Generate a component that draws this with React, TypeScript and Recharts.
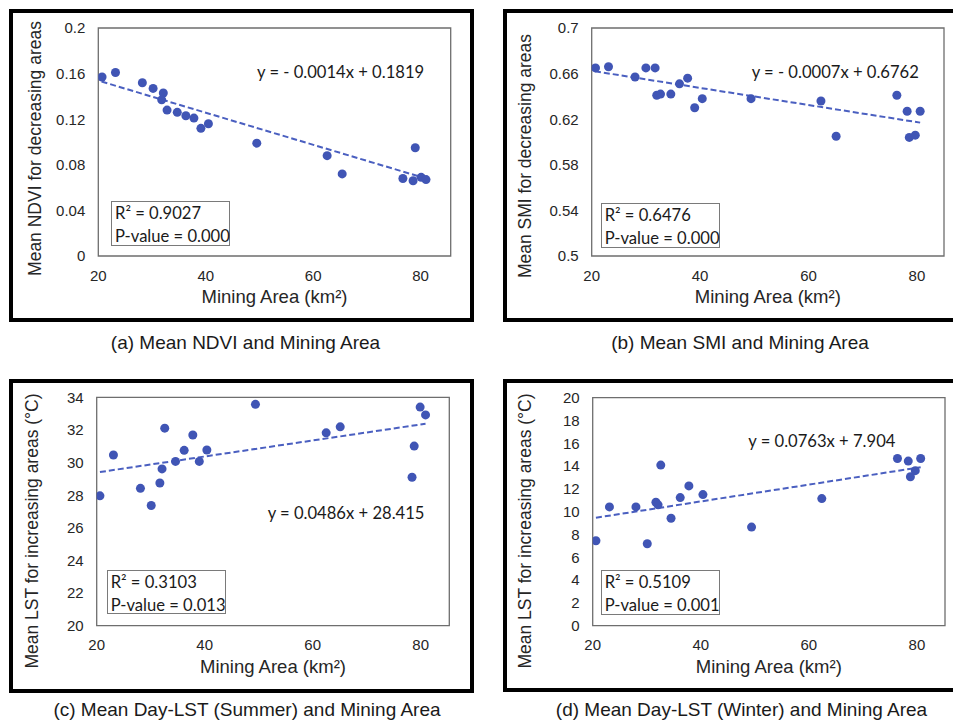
import React from 'react';
import { ScatterChart, Scatter, XAxis, YAxis, ReferenceArea, ReferenceLine } from 'recharts';

// ---- Data ----
const xTicks = [20, 40, 60, 80];

const ndviArea = [20.7, 23.2, 28.2, 30.2, 32.1, 31.8, 32.8, 34.7, 36.3, 37.8, 39.1, 40.5, 49.5, 62.6, 65.4, 76.7, 78.6, 79.0, 80.1, 81.0];
const ndviMean = [0.157, 0.161, 0.152, 0.147, 0.143, 0.137, 0.128, 0.126, 0.123, 0.121, 0.112, 0.116, 0.099, 0.088, 0.072, 0.068, 0.066, 0.095, 0.069, 0.067];
const ndviTicks = [0, 0.04, 0.08, 0.12, 0.16, 0.2];
const ndviTrend = [[20.6, 0.153], [81.0, 0.068]];

const smiArea = [20.7, 23.1, 28.0, 30.0, 31.7, 32.0, 32.7, 34.6, 36.2, 37.7, 39.0, 40.4, 49.4, 62.3, 65.1, 76.3, 78.2, 78.6, 79.7, 80.6];
const smiMean = [0.665, 0.666, 0.657, 0.665, 0.665, 0.641, 0.642, 0.642, 0.651, 0.656, 0.630, 0.638, 0.638, 0.636, 0.605, 0.641, 0.627, 0.604, 0.606, 0.627];
const smiTicks = [0.5, 0.54, 0.58, 0.62, 0.66, 0.7];
const smiTrend = [[20.6, 0.662], [80.6, 0.617]];

const lstSummerArea = [20.6, 23.1, 28.1, 30.1, 31.7, 32.1, 32.6, 34.6, 36.2, 37.8, 39.0, 40.4, 49.4, 62.5, 65.1, 78.4, 78.8, 79.9, 80.9];
const lstSummerMean = [27.96, 30.46, 28.42, 27.37, 28.75, 29.61, 32.11, 30.07, 30.75, 31.69, 30.07, 30.77, 33.57, 31.82, 32.19, 29.10, 31.01, 33.40, 32.92];
const lstSummerTicks = [20, 22, 24, 26, 28, 30, 32, 34];
const lstSummerTrend = [[20.6, 29.42], [80.9, 32.38]];

const lstWinterArea = [20.6, 23.1, 28.0, 30.1, 31.7, 32.1, 32.6, 34.5, 36.2, 37.8, 40.4, 49.4, 62.4, 76.4, 78.4, 78.8, 79.7, 80.7];
const lstWinterMean = [7.45, 10.42, 10.42, 7.19, 10.83, 10.60, 14.09, 9.43, 11.24, 12.26, 11.50, 8.65, 11.15, 14.67, 14.44, 13.07, 13.60, 14.67];
const lstWinterTicks = [0, 2, 4, 6, 8, 10, 12, 14, 16, 18, 20];
const lstWinterTrend = [[20.6, 9.47], [80.7, 13.9]];

const captions = [
  '(a) Mean NDVI and Mining Area',
  '(b) Mean SMI and Mining Area',
  '(c) Mean Day-LST (Summer) and Mining Area',
  '(d) Mean Day-LST (Winter) and Mining Area',
];
const yTitles = [
  'Mean NDVI for decreasing areas',
  'Mean SMI for decreasing areas',
  'Mean LST for increasing areas (°C)',
  'Mean LST for increasing areas (°C)',
];
const equations = ['y = - 0.0014x + 0.1819', 'y = - 0.0007x + 0.6762', 'y = 0.0486x + 28.415', 'y = 0.0763x + 7.904'];
const rSquared = ['R² = 0.9027', 'R² = 0.6476', 'R² = 0.3103', 'R² = 0.5109'];
const pValues = ['P-value = 0.000', 'P-value = 0.000', 'P-value = 0.013', 'P-value = 0.001'];

// ---- Styling / layout ----
const DOT = '#4055b5';
const LINE = '#4a5fc0';
const ARIAL = '"Liberation Sans", Arial, sans-serif';
const CALIBRI = 'Lato, "Open Sans", sans-serif';

type Cfg = {
  xs: number[]; ys: number[]; yTicks: number[]; trend: number[][];
  xMax: number;
  frame: { left: number; top: number; w: number; h: number };
  plot: { l: number; t: number; r: number; b: number };
  yTitleX: number; yTitleY: number;
  eq: { left: number; cy: number };
  box: { left: number; top: number; w: number; h: number };
  cap: { cx: number; cy: number };
};

const panels: Cfg[] = [
  {
    xs: ndviArea, ys: ndviMean, yTicks: ndviTicks, trend: ndviTrend, xMax: 85.6,
    frame: { left: 9, top: 9, w: 457, h: 305 },
    plot: { l: 85.3, t: 15, r: 437.7, b: 243 },
    yTitleX: 22, yTitleY: 135.5,
    eq: { left: 257, cy: 71.7 },
    box: { left: 111, top: 201, w: 119, h: 45 },
    cap: { cx: 245.5, cy: 343 },
  },
  {
    xs: smiArea, ys: smiMean, yTicks: smiTicks, trend: smiTrend, xMax: 85.0,
    frame: { left: 503, top: 9, w: 457, h: 305 },
    plot: { l: 84.7, t: 15, r: 437, b: 243 },
    yTitleX: 18, yTitleY: 143,
    eq: { left: 751.7, cy: 71.7 },
    box: { left: 600.7, top: 203.3, w: 119.6, h: 45 },
    cap: { cx: 740, cy: 343 },
  },
  {
    xs: lstSummerArea, ys: lstSummerMean, yTicks: lstSummerTicks, trend: lstSummerTrend, xMax: 85.3,
    frame: { left: 9, top: 379, w: 457, h: 306 },
    plot: { l: 83.7, t: 14.3, r: 436.3, b: 242.7 },
    yTitleX: 19, yTitleY: 148,
    eq: { left: 267.7, cy: 513.3 },
    box: { left: 106.7, top: 570, w: 119.6, h: 44.3 },
    cap: { cx: 247, cy: 710 },
  },
  {
    xs: lstWinterArea, ys: lstWinterMean, yTicks: lstWinterTicks, trend: lstWinterTrend, xMax: 85.2,
    frame: { left: 503, top: 379, w: 457, h: 305 },
    plot: { l: 85.7, t: 14.7, r: 438, b: 242.7 },
    yTitleX: 18, yTitleY: 148,
    eq: { left: 748.3, cy: 441 },
    box: { left: 600.7, top: 570, w: 119.6, h: 45 },
    cap: { cx: 741.5, cy: 710 },
  },
];

const Dot = (p: any) => <circle cx={p.cx} cy={p.cy} r={4.5} fill={DOT} />;

function Panel({ cfg, idx }: { cfg: Cfg; idx: number }) {
  const data = cfg.xs.map((x, i) => ({ x, y: cfg.ys[i] }));
  const yMin = cfg.yTicks[0];
  const yMax = cfg.yTicks[cfg.yTicks.length - 1];
  const { frame, plot } = cfg;
  const tickStyle = { fontSize: 15, fill: '#262626', fontFamily: ARIAL };
  const yTitle = yTitles[idx];
  return (
    <div
      style={{
        position: 'absolute', left: frame.left, top: frame.top, width: frame.w, height: frame.h,
        border: '4px solid #000', background: '#fff',
      }}
    >
      <ScatterChart
        width={frame.w}
        height={frame.h}
        margin={{ top: plot.t, right: frame.w - plot.r, left: 0, bottom: 0 }}
      >
        <XAxis
          type="number" dataKey="x" domain={[20, cfg.xMax]} ticks={xTicks} allowDataOverflow
          height={frame.h - plot.b} axisLine={false} tickLine={false} tickSize={6} tickMargin={8}
          tick={tickStyle}
          label={{
            value: 'Mining Area (km²)', position: 'insideTop', offset: 34,
            style: { fontSize: 18.5, fill: '#262626', fontFamily: ARIAL },
          }}
        />
        <YAxis
          type="number" dataKey="y" domain={[yMin, yMax]} ticks={cfg.yTicks} allowDataOverflow
          width={plot.l} axisLine={false} tickLine={false} tickSize={6} tickMargin={7}
          tick={tickStyle}
          label={{
            content: () => (
              <text
                x={cfg.yTitleX} y={cfg.yTitleY}
                transform={`rotate(-90 ${cfg.yTitleX} ${cfg.yTitleY})`}
                textAnchor="middle" dominantBaseline="central"
                style={{ fontSize: 17.5, fill: '#262626', fontFamily: ARIAL }}
              >
                {yTitle}
              </text>
            ),
          }}
        />
        <ReferenceArea x1={20} x2={cfg.xMax} y1={yMin} y2={yMax} fill="none" stroke="#6e6e6e" strokeWidth={1.3} />
        <Scatter data={data} shape={Dot} isAnimationActive={false} />
        <ReferenceLine
          segment={[{ x: cfg.trend[0][0], y: cfg.trend[0][1] }, { x: cfg.trend[1][0], y: cfg.trend[1][1] }]}
          stroke={LINE} strokeWidth={2} strokeDasharray="6 3"
        />
      </ScatterChart>
    </div>
  );
}

export default function App() {
  return (
    <div
      style={{
        position: 'absolute', left: 0, top: 0, width: 953, height: 723, overflow: 'hidden',
        background: '#fff', fontFamily: ARIAL,
      }}
    >
      {panels.map((cfg, i) => (
        <Panel key={i} cfg={cfg} idx={i} />
      ))}
      {panels.map((cfg, i) => (
        <div
          key={'eq' + i}
          style={{
            position: 'absolute', left: cfg.eq.left, top: cfg.eq.cy - 12, height: 24, lineHeight: '24px',
            fontFamily: CALIBRI, fontSize: 16.6, color: '#1a1a1a', whiteSpace: 'nowrap',
          }}
        >
          {equations[i]}
        </div>
      ))}
      {panels.map((cfg, i) => (
        <div
          key={'box' + i}
          style={{
            position: 'absolute', left: cfg.box.left, top: cfg.box.top, width: cfg.box.w, height: cfg.box.h,
            boxSizing: 'border-box', border: '1.3px solid #7a7a7a', background: '#fff',
            fontFamily: CALIBRI, fontSize: 16.6, color: '#1a1a1a', whiteSpace: 'nowrap',
            paddingLeft: 3, lineHeight: '22.5px',
          }}
        >
          <div>{rSquared[i]}</div>
          <div>{pValues[i]}</div>
        </div>
      ))}
      {panels.map((cfg, i) => (
        <div
          key={'cap' + i}
          style={{
            position: 'absolute', left: cfg.cap.cx - 250, width: 500, top: cfg.cap.cy - 12, height: 24,
            lineHeight: '24px', textAlign: 'center', fontFamily: ARIAL, fontSize: 19, color: '#1a1a1a',
            whiteSpace: 'nowrap',
          }}
        >
          {captions[i]}
        </div>
      ))}
    </div>
  );
}
